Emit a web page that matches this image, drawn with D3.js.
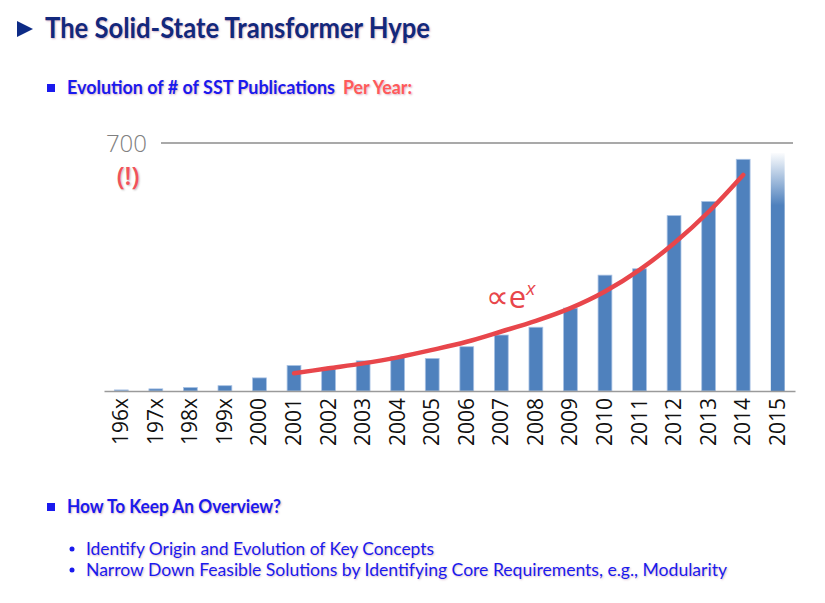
<!DOCTYPE html>
<html>
<head>
<meta charset="utf-8">
<script src="https://cdn.jsdelivr.net/npm/d3@7"></script>
<style>
  html, body { margin: 0; padding: 0; background: #fff; }
  svg text { font-family: "Open Sans", "Noto Sans", sans-serif; }
  .head { font-family: Lato, "Open Sans", sans-serif; font-weight: bold; text-shadow: 1px 1px 2px rgba(140, 40, 90, 0.35); }
  .body { font-family: Lato, "Open Sans", sans-serif; text-shadow: 1px 1px 2px rgba(140, 40, 90, 0.3); }
</style>
</head>
<body>
<div id="chart"></div>
<script>
const width = 825;
const height = 603;

// data
const years = ["196x", "197x", "198x", "199x", "2000", "2001", "2002", "2003", "2004", "2005",
  "2006", "2007", "2008", "2009", "2010", "2011", "2012", "2013", "2014", "2015"];
const publications = [3, 6, 10, 15, 37, 72, 61, 85, 97, 92, 125, 158, 180, 234, 327, 345, 495, 535, 654, 672];
// exponential trend (red curve), 2001..2014
const trendYears = ["2001", "2002", "2003", "2004", "2005", "2006", "2007",
  "2008", "2009", "2010", "2011", "2012", "2013", "2014"];
const trendValues = [50, 64, 78, 95, 116, 139, 168, 198, 234, 281, 342, 417, 506, 610];
const yTicks = [700];

const svg = d3.select("#chart")
  .append("svg")
  .attr("width", width)
  .attr("height", height);

// gradient for the unfinished year 2015
const grad = svg.append("defs")
  .append("linearGradient")
  .attr("id", "fade")
  .attr("x1", 0).attr("y1", 0)
  .attr("x2", 0).attr("y2", 1);
grad.append("stop").attr("offset", 0).attr("stop-color", "#4f81bd").attr("stop-opacity", 0.02);
grad.append("stop").attr("offset", 0.22).attr("stop-color", "#4f81bd").attr("stop-opacity", 1);
grad.append("stop").attr("offset", 1).attr("stop-color", "#4f81bd").attr("stop-opacity", 1);

// Titel
svg.append("path")
  .attr("d", "M17,21L33,29L17,37Z")
  .attr("fill", "#0d2b86");
svg.append("text")
  .attr("class", "head")
  .attr("x", 45)
  .attr("y", 38)
  .attr("font-size", 28)
  .attr("fill", "#13287c")
  .attr("textLength", 385)
  .attr("lengthAdjust", "spacingAndGlyphs")
  .text("The Solid-State Transformer Hype");

// sub heading (blue part + red part)
svg.append("rect").attr("x", 47).attr("y", 84).attr("width", 8).attr("height", 8).attr("fill", "#1a1aee");
svg.append("text")
  .attr("class", "head")
  .attr("x", 67)
  .attr("y", 94)
  .attr("font-size", 18)
  .attr("fill", "#1a1aee")
  .attr("textLength", 268)
  .attr("lengthAdjust", "spacingAndGlyphs")
  .text("Evolution of # of SST Publications");
svg.append("text")
  .attr("class", "head")
  .attr("x", 343)
  .attr("y", 94)
  .attr("font-size", 18)
  .attr("fill", "#ff5a5a")
  .attr("textLength", 69)
  .attr("lengthAdjust", "spacingAndGlyphs")
  .text("Per Year:");

// scales
const x = d3.scaleBand()
  .domain(years)
  .range([104, 795])
  .paddingInner(0.6)
  .paddingOuter(0.3);

const y = d3.scaleLinear()
  .domain([0, 700])
  .range([391, 143]);

// gridline at 700
svg.selectAll(".grid")
  .data(yTicks)
  .enter()
  .append("line")
  .attr("x1", 161)
  .attr("x2", 793)
  .attr("y1", d => y(d))
  .attr("y2", d => y(d))
  .attr("stroke", "#8c8c8c")
  .attr("stroke-width", 1.5);

svg.selectAll(".ylab")
  .data(yTicks)
  .enter()
  .append("text")
  .attr("x", 147)
  .attr("y", d => y(d) + 9)
  .attr("text-anchor", "end")
  .attr("font-size", 24)
  .attr("font-weight", 300)
  .attr("fill", "#808080")
  .text(d => d);

svg.append("text")
  .attr("x", 128)
  .attr("y", 185)
  .attr("text-anchor", "middle")
  .attr("font-size", 25)
  .attr("font-weight", 600)
  .attr("fill", "#f2525a")
  .style("text-shadow", "1px 1px 2px rgba(0,0,0,0.25)")
  .text("(!)");

// bars
svg.selectAll(".bar")
  .data(years.map((d, i) => ({ year: d, value: publications[i] })))
  .enter()
  .append("rect")
  .attr("class", "bar")
  .attr("x", d => x(d.year))
  .attr("width", x.bandwidth())
  .attr("y", d => y(d.value))
  .attr("height", d => y(0) - y(d.value))
  .attr("fill", d => d.year === "2015" ? "url(#fade)" : "#4f81bd")
  .attr("stroke", d => d.year === "2015" ? "none" : "#a9c2e4")
  .attr("stroke-width", 0.8);

// x axis
const xAxis = svg.append("g")
  .attr("transform", `translate(0,${y(0)})`)
  .call(d3.axisBottom(x).tickSize(0).tickPadding(0));
xAxis.select(".domain")
  .attr("stroke", "#9a9a9a")
  .attr("stroke-width", 1.5);
xAxis.selectAll("text")
  .attr("font-family", "'Open Sans', 'Noto Sans', sans-serif")
  .attr("font-size", 21)
  .attr("fill", "#111")
  .attr("text-anchor", "end")
  .attr("dy", null)
  .attr("y", 0)
  .attr("transform", "translate(7,7) rotate(-90)");

// trend
const line = d3.line()
  .x((d, i) => x(trendYears[i]) + x.bandwidth() / 2)
  .y(d => y(d))
  .curve(d3.curveMonotoneX);

svg.append("path")
  .datum(trendValues)
  .attr("fill", "none")
  .attr("stroke", "#e8464b")
  .attr("stroke-width", 4.5)
  .attr("stroke-linecap", "round")
  .attr("d", line);

const lab = svg.append("text")
  .attr("x", 486)
  .attr("y", 308)
  .attr("fill", "#e8464b");
lab.append("tspan").attr("font-size", 32).attr("font-family", "'DejaVu Sans', sans-serif").text("∝");
lab.append("tspan").attr("font-size", 31).text("e");
lab.append("tspan").attr("font-size", 19).attr("font-style", "italic").attr("dy", -13).text("x");

// bottom bullets
svg.append("rect").attr("x", 47).attr("y", 503).attr("width", 8).attr("height", 8).attr("fill", "#1a1aee");
svg.append("text")
  .attr("class", "head")
  .attr("x", 67)
  .attr("y", 513)
  .attr("font-size", 19)
  .attr("fill", "#1a1aee")
  .attr("textLength", 214)
  .attr("lengthAdjust", "spacingAndGlyphs")
  .text("How To Keep An Overview?");

const bullets = [
  "Identify Origin and Evolution of Key Concepts",
  "Narrow Down Feasible Solutions by Identifying Core Requirements, e.g., Modularity"
];
const bulletLen = [348, 641];

bullets.forEach((b, i) => {
  svg.append("circle")
    .attr("cx", 72)
    .attr("cy", 549 + i * 21)
    .attr("r", 2.5)
    .attr("fill", "#1a1aee");
  svg.append("text")
    .attr("class", "body")
    .attr("x", 86)
    .attr("y", 555 + i * 21)
    .attr("font-size", 18)
    .attr("fill", "#1a1aee")
    .attr("textLength", bulletLen[i])
    .attr("lengthAdjust", "spacingAndGlyphs")
    .text(b);
});
</script>
</body>
</html>
